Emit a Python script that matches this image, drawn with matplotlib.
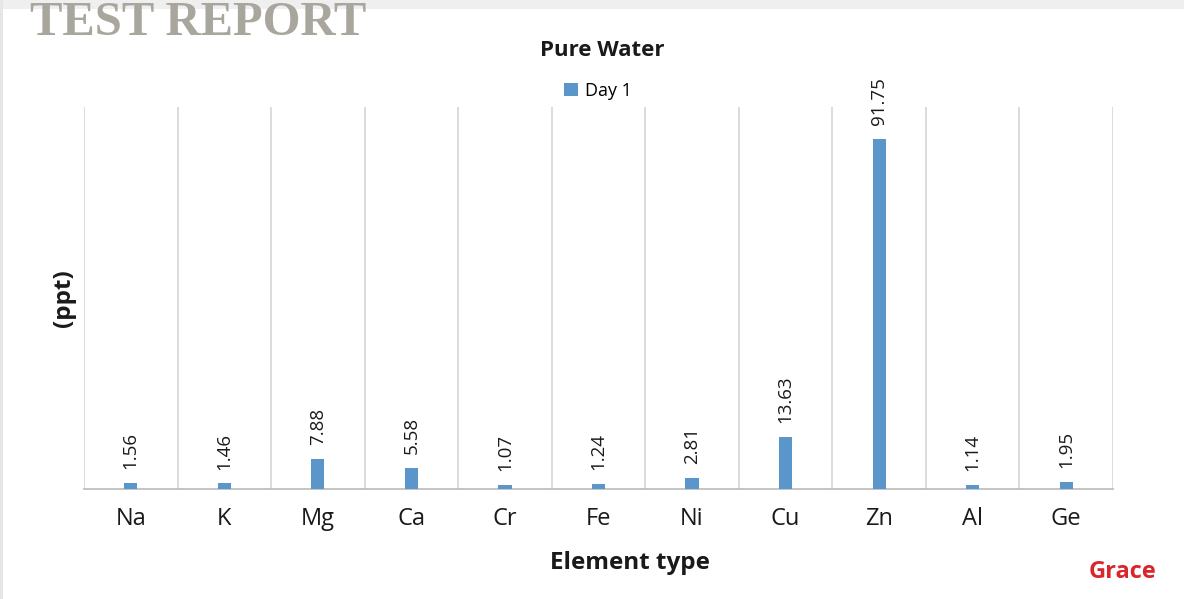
import matplotlib
matplotlib.use("Agg")
import matplotlib.pyplot as plt
from matplotlib.patches import Rectangle

# --- data ---
elements = ['Na', 'K', 'Mg', 'Ca', 'Cr', 'Fe', 'Ni', 'Cu', 'Zn', 'Al', 'Ge']
day1_ppt = [1.56, 1.46, 7.88, 5.58, 1.07, 1.24, 2.81, 13.63, 91.75, 1.14, 1.95]

plt.rcParams['font.family'] = ['Open Sans', 'DejaVu Sans']

BAR_COLOR = '#5b96cb'
GRID_COLOR = '#d9d9d9'
TEXT_COLOR = '#1a1a1a'

fig = plt.figure(figsize=(11.84, 5.99), dpi=100)
fig.patch.set_facecolor('white')

# page background bits: grey top band and left edge
fig.patches.append(Rectangle((0, 1 - 9 / 599), 1, 9 / 599, transform=fig.transFigure,
                             facecolor='#efefef', edgecolor='none', zorder=0))
fig.patches.append(Rectangle((0, 0), 2.5 / 1184, 1, transform=fig.transFigure,
                             facecolor='#e6e6e6', edgecolor='none', zorder=0))

ax = fig.add_axes([84 / 1184, 1 - 489 / 599, (1113 - 84) / 1184, (489 - 107) / 599])
ax.set_facecolor('none')

x = list(range(len(elements)))
ax.bar(x, day1_ppt, width=0.14, color=BAR_COLOR, zorder=3, label='Day 1')

for xi, v in zip(x, day1_ppt):
    ax.annotate(f'{v:.2f}', (xi, v), xytext=(0, 10), textcoords='offset points',
                rotation=90, ha='center', va='bottom', fontsize=13.5, color=TEXT_COLOR)

ax.set_xlim(-0.5, len(elements) - 0.5)
ax.set_ylim(0, 100)
ax.set_yticks([])
ax.set_xticks(x)
ax.set_xticklabels(elements, fontsize=17, color=TEXT_COLOR)
ax.set_xticks([i - 0.5 for i in range(len(elements) + 1)], minor=True)
ax.tick_params(axis='x', which='both', length=0, pad=13)
ax.grid(True, axis='x', which='minor', color=GRID_COLOR, linewidth=1.3, zorder=0)

for s in ['top', 'right', 'left']:
    ax.spines[s].set_visible(False)
ax.spines['bottom'].set_color('#bfbfbf')
ax.spines['bottom'].set_linewidth(1.3)

ax.set_ylabel('(ppt)', fontsize=17.5, fontweight='bold', labelpad=6, color=TEXT_COLOR)
fig.text(630 / 1184, 1 - 563 / 599, 'Element type', ha='center', va='center',
         fontsize=17.5, fontweight='bold', color=TEXT_COLOR)

fig.text(602 / 1184, 1 - 50 / 599, 'Pure Water', ha='center', va='center',
         fontsize=16, fontweight='bold', color=TEXT_COLOR)
ax.legend(loc='center', bbox_to_anchor=(598 / 1184, 1 - 91 / 599),
          bbox_transform=fig.transFigure, frameon=False, fontsize=13,
          handlelength=0.75, handleheight=0.75, handletextpad=0.4)

# watermark and logo
fig.text(30 / 1184, 1 - 1 / 599, 'TEST REPORT', ha='left', va='top',
         fontsize=35, fontweight='bold', family='Liberation Serif', color='#a9a69d')
fig.text(1122 / 1184, 1 - 572 / 599, 'Grace', ha='center', va='center',
         fontsize=17, fontweight='bold', color='#d9262c')

fig.savefig('out.png', dpi=100)
